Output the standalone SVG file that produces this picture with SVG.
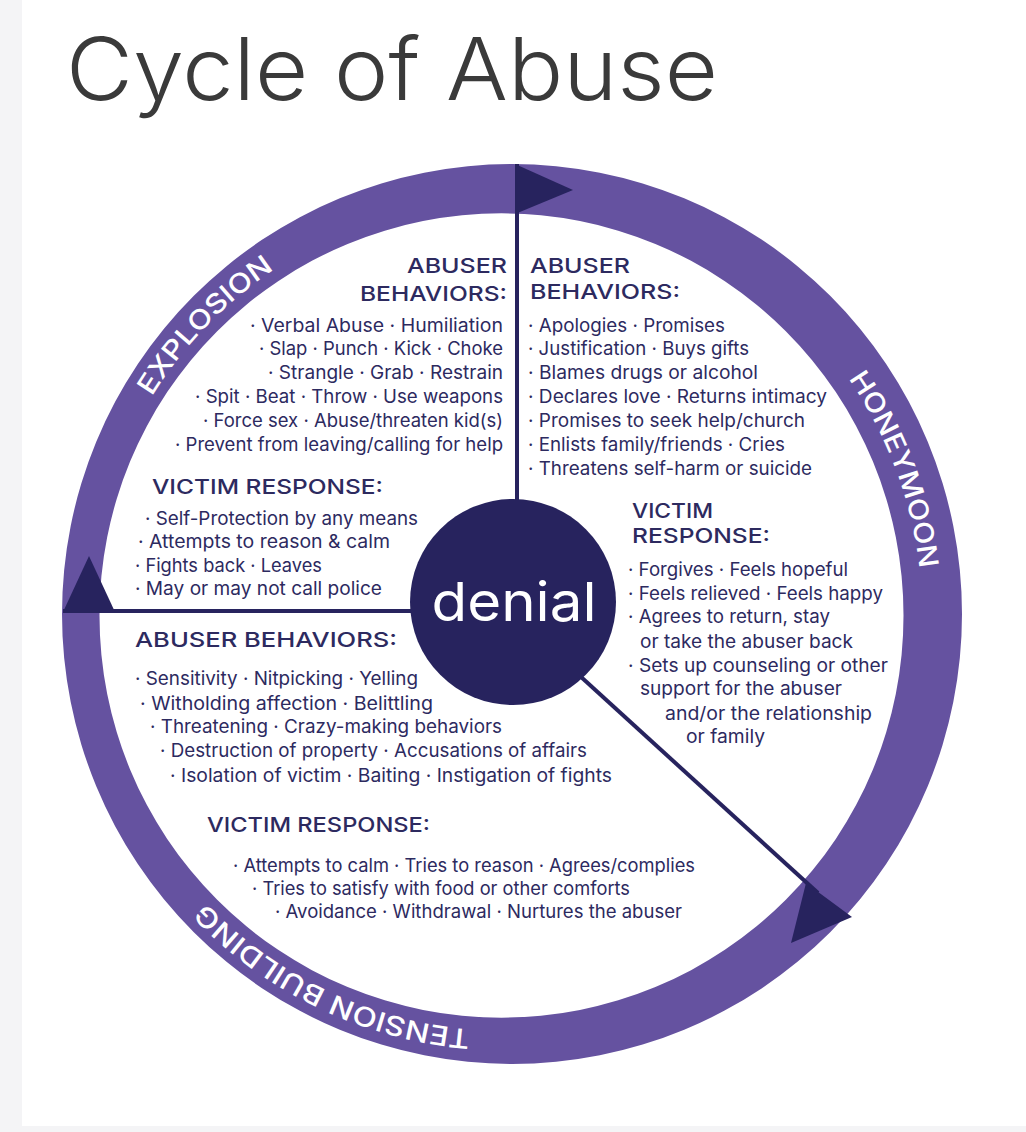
<svg xmlns="http://www.w3.org/2000/svg" width="1026" height="1132" viewBox="0 0 1026 1132">
<defs>
<style>
.t{font-family:Inter,"Noto Sans",sans-serif;fill:#2d2a5f}
.b{font-size:18.5px}
.h{font-size:20.5px;font-weight:500}
.r{font-family:Inter,"Noto Sans",sans-serif;font-size:27px;font-weight:500;fill:#ffffff}
.nv{fill:#27235e}
.ln{stroke:#27235e;stroke-width:4;fill:none}
</style>
<path id="mid" d="M 90,615 A 416 416 0 1 1 922,615 A 416 416 0 1 1 90,615"/>
</defs>
<rect x="0" y="0" width="1026" height="1132" fill="#f4f4f6"/>
<rect x="22" y="0" width="1004" height="1126" fill="#ffffff"/>
<text x="66" y="100" font-family="Inter,'Noto Sans',sans-serif" font-size="87" font-weight="300" fill="#3a3a3a" textLength="652" lengthAdjust="spacingAndGlyphs">Cycle of Abuse</text>

<g id="ring">
<path d="M 62,614 A 450 450 0 1 1 962,614 A 450 450 0 1 1 62,614 Z M 99.5,615.5 A 402 402 0 1 0 903.5,615.5 A 402 402 0 1 0 99.5,615.5 Z" fill="#6552a0" fill-rule="evenodd"/>
<text class="r"><textPath href="#mid" startOffset="12.2%" text-anchor="middle" textLength="178" lengthAdjust="spacingAndGlyphs">EXPLOSION</textPath></text>
<text class="r"><textPath href="#mid" startOffset="44.3%" text-anchor="middle" textLength="205" lengthAdjust="spacingAndGlyphs">HONEYMOON</textPath></text>
<text class="r"><textPath href="#mid" startOffset="82.1%" text-anchor="middle" textLength="300" lengthAdjust="spacingAndGlyphs">TENSION BUILDING</textPath></text>
</g>

<g id="connectors">
<line class="ln" x1="517" y1="164" x2="517" y2="505"/>
<polygon class="nv" points="515,164 573,190 515,214"/>
<line class="ln" x1="63" y1="611" x2="420" y2="611"/>
<polygon class="nv" points="63,612 115,612 89,556"/>
<line class="ln" x1="580" y1="676" x2="818" y2="893"/>
<polygon class="nv" points="806,883 852,917 791,943"/>
</g>

<g id="denial">
<circle cx="513" cy="602" r="103" fill="#27235e"/>
<text x="514" y="621" text-anchor="middle" font-family="Inter,'Noto Sans',sans-serif" font-size="54" fill="#ffffff" textLength="165" lengthAdjust="spacingAndGlyphs">denial</text>
</g>

<g id="explosion-abuser" class="t">
<text class="h" x="507" y="273" text-anchor="end" textLength="100" lengthAdjust="spacingAndGlyphs">ABUSER</text>
<text class="h" x="507" y="301" text-anchor="end" textLength="147" lengthAdjust="spacingAndGlyphs">BEHAVIORS:</text>
<text class="b" x="503" y="332" text-anchor="end" textLength="253" lengthAdjust="spacingAndGlyphs">· Verbal Abuse · Humiliation</text>
<text class="b" x="503" y="355" text-anchor="end" textLength="244" lengthAdjust="spacingAndGlyphs">· Slap · Punch · Kick · Choke</text>
<text class="b" x="503" y="379" text-anchor="end" textLength="235" lengthAdjust="spacingAndGlyphs">· Strangle · Grab · Restrain</text>
<text class="b" x="503" y="403" text-anchor="end" textLength="308" lengthAdjust="spacingAndGlyphs">· Spit · Beat · Throw · Use weapons</text>
<text class="b" x="503" y="427" text-anchor="end" textLength="300" lengthAdjust="spacingAndGlyphs">· Force sex · Abuse/threaten kid(s)</text>
<text class="b" x="503" y="451" text-anchor="end" textLength="328" lengthAdjust="spacingAndGlyphs">· Prevent from leaving/calling for help</text>
</g>

<g id="explosion-victim" class="t">
<text class="h" x="152" y="494" textLength="231" lengthAdjust="spacingAndGlyphs">VICTIM RESPONSE:</text>
<text class="b" x="145" y="525" textLength="273" lengthAdjust="spacingAndGlyphs">· Self-Protection by any means</text>
<text class="b" x="138" y="548" textLength="252" lengthAdjust="spacingAndGlyphs">· Attempts to reason &amp; calm</text>
<text class="b" x="135" y="572" textLength="187" lengthAdjust="spacingAndGlyphs">· Fights back · Leaves</text>
<text class="b" x="135" y="595" textLength="247" lengthAdjust="spacingAndGlyphs">· May or may not call police</text>
</g>

<g id="honeymoon-abuser" class="t">
<text class="h" x="530" y="273" textLength="100" lengthAdjust="spacingAndGlyphs">ABUSER</text>
<text class="h" x="530" y="299" textLength="150" lengthAdjust="spacingAndGlyphs">BEHAVIORS:</text>
<text class="b" x="528" y="332" textLength="197" lengthAdjust="spacingAndGlyphs">· Apologies · Promises</text>
<text class="b" x="528" y="355" textLength="221" lengthAdjust="spacingAndGlyphs">· Justification · Buys gifts</text>
<text class="b" x="528" y="379" textLength="230" lengthAdjust="spacingAndGlyphs">· Blames drugs or alcohol</text>
<text class="b" x="528" y="403" textLength="299" lengthAdjust="spacingAndGlyphs">· Declares love · Returns intimacy</text>
<text class="b" x="528" y="427" textLength="277" lengthAdjust="spacingAndGlyphs">· Promises to seek help/church</text>
<text class="b" x="528" y="451" textLength="257" lengthAdjust="spacingAndGlyphs">· Enlists family/friends · Cries</text>
<text class="b" x="528" y="475" textLength="284" lengthAdjust="spacingAndGlyphs">· Threatens self-harm or suicide</text>
</g>

<g id="honeymoon-victim" class="t">
<text class="h" x="632" y="518" textLength="81" lengthAdjust="spacingAndGlyphs">VICTIM</text>
<text class="h" x="632" y="543" textLength="138" lengthAdjust="spacingAndGlyphs">RESPONSE:</text>
<text class="b" x="628" y="576" textLength="220" lengthAdjust="spacingAndGlyphs">· Forgives · Feels hopeful</text>
<text class="b" x="628" y="600" textLength="255" lengthAdjust="spacingAndGlyphs">· Feels relieved · Feels happy</text>
<text class="b" x="628" y="623" textLength="202" lengthAdjust="spacingAndGlyphs">· Agrees to return, stay</text>
<text class="b" x="640" y="648" textLength="213" lengthAdjust="spacingAndGlyphs">or take the abuser back</text>
<text class="b" x="628" y="672" textLength="260" lengthAdjust="spacingAndGlyphs">· Sets up counseling or other</text>
<text class="b" x="640" y="695" textLength="202" lengthAdjust="spacingAndGlyphs">support for the abuser</text>
<text class="b" x="665" y="720" textLength="207" lengthAdjust="spacingAndGlyphs">and/or the relationship</text>
<text class="b" x="686" y="743" textLength="79" lengthAdjust="spacingAndGlyphs">or family</text>
</g>

<g id="tension-abuser" class="t">
<text class="h" x="135" y="647" textLength="262" lengthAdjust="spacingAndGlyphs">ABUSER BEHAVIORS:</text>
<text class="b" x="135" y="685" textLength="283" lengthAdjust="spacingAndGlyphs">· Sensitivity · Nitpicking · Yelling</text>
<text class="b" x="140" y="710" textLength="293" lengthAdjust="spacingAndGlyphs">· Witholding affection · Belittling</text>
<text class="b" x="150" y="733" textLength="352" lengthAdjust="spacingAndGlyphs">· Threatening · Crazy-making behaviors</text>
<text class="b" x="160" y="757" textLength="427" lengthAdjust="spacingAndGlyphs">· Destruction of property · Accusations of affairs</text>
<text class="b" x="170" y="782" textLength="442" lengthAdjust="spacingAndGlyphs">· Isolation of victim · Baiting · Instigation of fights</text>
</g>

<g id="tension-victim" class="t">
<text class="h" x="207" y="832" textLength="223" lengthAdjust="spacingAndGlyphs">VICTIM RESPONSE:</text>
<text class="b" x="233" y="872" textLength="462" lengthAdjust="spacingAndGlyphs">· Attempts to calm · Tries to reason · Agrees/complies</text>
<text class="b" x="252" y="895" textLength="378" lengthAdjust="spacingAndGlyphs">· Tries to satisfy with food or other comforts</text>
<text class="b" x="275" y="918" textLength="407" lengthAdjust="spacingAndGlyphs">· Avoidance · Withdrawal · Nurtures the abuser</text>
</g>
</svg>
